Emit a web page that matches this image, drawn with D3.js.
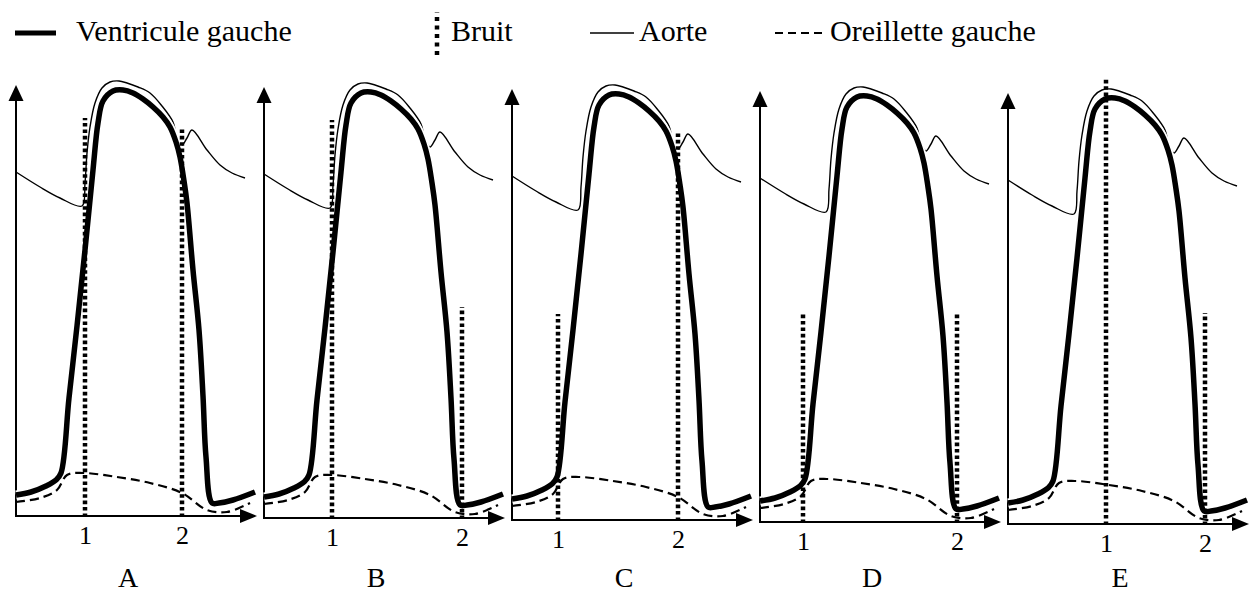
<!DOCTYPE html>
<html>
<head>
<meta charset="utf-8">
<script src="https://cdn.jsdelivr.net/npm/d3@7"></script>
<style>
	body { margin: 0; background: #fff; }
	svg { display: block; font-family: "Liberation Serif", "Times New Roman", serif; }
</style>
</head>
<body>
<svg id="chart" width="1252" height="593"></svg>
<script>
// values: time on the abscissa, pressure on the ordinate (arbitrary units)
const ventriculeT = [0, 15, 30, 40, 45, 53, 61, 69, 77, 82, 87, 97, 107, 117, 127, 137, 147, 154, 160, 164, 168, 171, 177, 183, 187, 190, 196, 203, 217, 239];
const ventriculeP = [21, 24, 30, 36, 43, 118, 190, 266, 346, 393, 415, 425, 426, 423, 417, 409, 399, 389, 374, 359, 335, 313, 246, 186, 120, 59, 13, 13, 16, 24];

const aorteT = [0, 24, 44, 66, 69, 71, 74, 79, 86, 94, 103, 111, 122, 134, 146, 157, 161, 166, 171, 176, 191, 204, 216, 229];
const aorteP = [344, 329, 318, 310, 333, 363, 389, 413, 428, 434, 435, 433, 429, 423, 410, 394, 379, 371, 378, 386, 366, 351, 343, 338];

const oreilletteT = [0, 24, 41, 51, 67, 101, 134, 166, 191, 211, 234];
const oreilletteP = [14, 18, 26, 41, 43, 39, 33, 23, 6, 4, 13];

const panels = ["A", "B", "C", "D", "E"];
// noise 1 and noise 2 : time of the noise and height of the dotted mark
const bruit1T = [69, 68, 46, 43, 98];
const bruit1P = [398, 398, 206, 209, 446];
const bruit2T = [166, 198, 166, 197, 197];
const bruit2P = [388, 211, 388, 209, 211];
const bruitLabels = ["1", "2"];

const legendLabels = ["Ventricule gauche", "Bruit", "Aorte", "Oreillette gauche"];

function init() {
	let svg = d3.select("svg#chart");

	let panelX = d3.scaleLinear().domain([0, panels.length - 1]).range([16, 1008]);
	let panelBase = d3.scaleLinear().domain([0, panels.length - 1]).range([516, 524]);

	let ventricule = ventriculeT.map((t, i) => [t, ventriculeP[i]]);
	let aorte = aorteT.map((t, i) => [t, aorteP[i]]);
	let oreillette = oreilletteT.map((t, i) => [t, oreilletteP[i]]);

	panels.forEach(function(name, i) {
		let ox = panelX(i);
		let base = panelBase(i);
		let x = d3.scaleLinear().domain([0, 240]).range([ox, ox + 240]);
		let y = d3.scaleLinear().domain([0, 440]).range([base, base - 440]);
		let line = d3.line()
			.x(d => x(d[0]))
			.y(d => y(d[1]))
			.curve(d3.curveCatmullRom.alpha(0.5));

		let g = svg.append("g").attr("class", "panel");

		// axes with arrows
		g.append("line")
			.attr("x1", ox).attr("y1", base)
			.attr("x2", ox).attr("y2", y(431) + 12)
			.attr("stroke", "#000").attr("stroke-width", 2);
		g.append("path")
			.attr("d", `M${ox},${y(431)}L${ox - 7.5},${y(431) + 16}L${ox + 7.5},${y(431) + 16}Z`)
			.attr("fill", "#000");
		g.append("line")
			.attr("x1", ox - 1).attr("y1", base)
			.attr("x2", x(241) - 12).attr("y2", base)
			.attr("stroke", "#000").attr("stroke-width", 2);
		g.append("path")
			.attr("d", `M${x(241)},${base}L${x(241) - 17},${base - 7}L${x(241) - 17},${base + 7}Z`)
			.attr("fill", "#000");

		// aorta
		g.append("path")
			.datum(aorte)
			.attr("d", line)
			.attr("fill", "none")
			.attr("stroke", "#000")
			.attr("stroke-width", 1.4);

		// ventricle, with a white halo
		g.append("path")
			.datum(ventricule)
			.attr("d", line)
			.attr("fill", "none")
			.attr("stroke", "#fff")
			.attr("stroke-width", 9);
		g.append("path")
			.datum(ventricule)
			.attr("d", line)
			.attr("fill", "none")
			.attr("stroke", "#000")
			.attr("stroke-width", 5.5)
			.attr("stroke-linejoin", "round");

		// atrium
		g.append("path")
			.datum(oreillette)
			.attr("d", line)
			.attr("fill", "none")
			.attr("stroke", "#000")
			.attr("stroke-width", 2.2)
			.attr("stroke-dasharray", "9,5");

		// noises
		let bruits = [[bruit1T[i], bruit1P[i]], [bruit2T[i], bruit2P[i]]];
		g.selectAll("line.bruit")
			.data(bruits)
			.enter().append("line")
			.attr("class", "bruit")
			.attr("x1", d => x(d[0])).attr("y1", base + 1)
			.attr("x2", d => x(d[0])).attr("y2", d => y(d[1]))
			.attr("stroke", "#000")
			.attr("stroke-width", 4.5)
			.attr("stroke-dasharray", "3.6,2.8");

		// tick labels 1 and 2
		let axis = d3.axisBottom(x)
			.tickValues(bruits.map(d => d[0]))
			.tickFormat((d, j) => bruitLabels[j])
			.tickSize(0)
			.tickPadding(10);
		let ax = g.append("g")
			.attr("transform", `translate(0,${base})`)
			.call(axis);
		ax.select(".domain").remove();
		ax.selectAll("text")
			.attr("font-family", "Liberation Serif, serif")
			.attr("font-size", 26)
			.attr("fill", "#000");

		g.append("text")
			.attr("x", x(112))
			.attr("y", 587)
			.attr("text-anchor", "middle")
			.attr("font-size", 28)
			.text(name);
	});

	// legend
	let leg = svg.append("g").attr("class", "legend");
	leg.append("line")
		.attr("x1", 15).attr("x2", 56).attr("y1", 33).attr("y2", 33)
		.attr("stroke", "#000").attr("stroke-width", 5);
	leg.append("line")
		.attr("x1", 437).attr("x2", 437).attr("y1", 55).attr("y2", 12)
		.attr("stroke", "#000").attr("stroke-width", 4.5)
		.attr("stroke-dasharray", "4,4.5");
	leg.append("line")
		.attr("x1", 590).attr("x2", 634).attr("y1", 33).attr("y2", 33)
		.attr("stroke", "#000").attr("stroke-width", 1.4);
	leg.append("line")
		.attr("x1", 775).attr("x2", 822).attr("y1", 33).attr("y2", 33)
		.attr("stroke", "#000").attr("stroke-width", 2)
		.attr("stroke-dasharray", "8,5");

	let legX = [76, 451, 639, 830];
	leg.selectAll("text")
		.data(legendLabels)
		.enter().append("text")
		.attr("x", (d, i) => legX[i])
		.attr("y", 41)
		.attr("font-size", 30)
		.text(d => d);
}

init();
</script>
</body>
</html>
